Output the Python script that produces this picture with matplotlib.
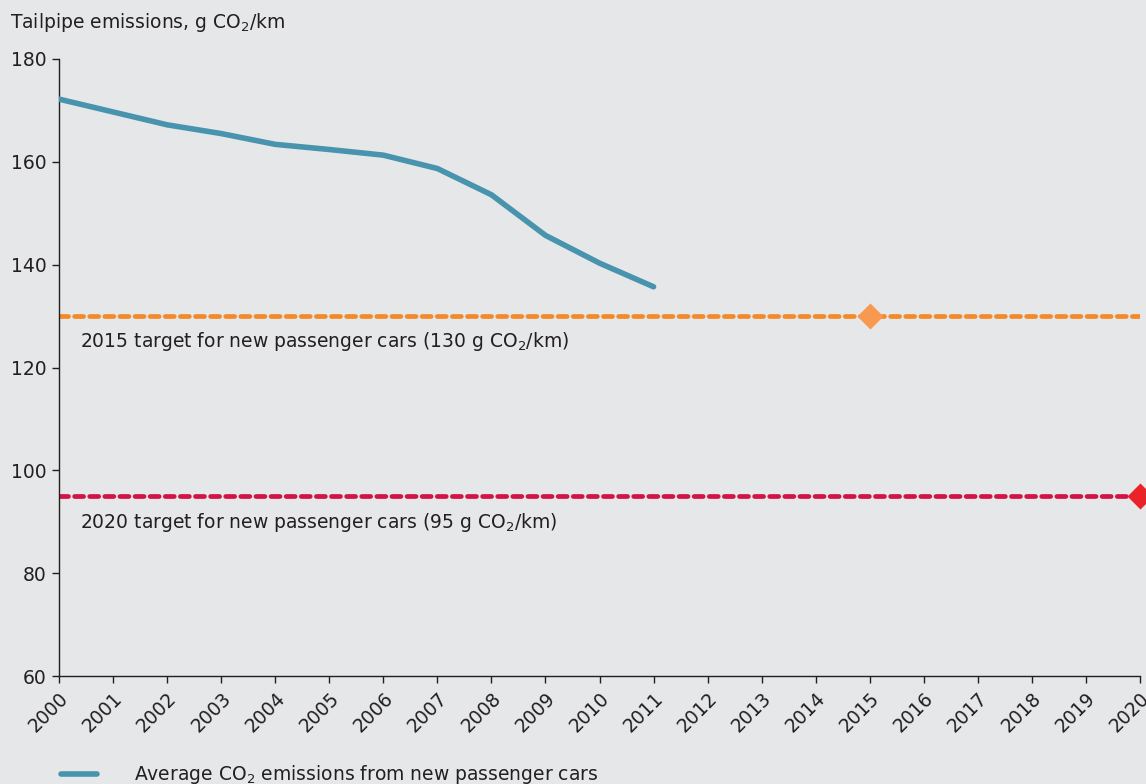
import matplotlib.pyplot as plt

# data
years = [2000, 2001, 2002, 2003, 2004, 2005, 2006, 2007, 2008, 2009, 2010, 2011]
avg_co2 = [172.2, 169.7, 167.2, 165.5, 163.4, 162.4, 161.3, 158.7, 153.6, 145.7, 140.3, 135.7]
target_2015 = 130
target_2020 = 95
all_years = list(range(2000, 2021))
y_ticks = [60, 80, 100, 120, 140, 160, 180]

bg = '#e6e7e8'
teal = '#4893ad'
orange = '#f4892a'
orange_marker = '#f7994e'
crimson = '#d31245'
red_marker = '#ea2328'
ink = '#231f20'

plt.rcParams['font.family'] = ['DejaVu Sans']
plt.rcParams['font.size'] = 13.5

fig = plt.figure(figsize=(11.46, 7.84), dpi=100, facecolor=bg)
ax = fig.add_axes([59 / 1146, 1 - 676 / 784, (1140 - 59) / 1146, (676 - 59) / 784])
ax.set_facecolor(bg)

# target lines
ax.plot([all_years[0], all_years[-1]], [target_2015, target_2015], color=orange, lw=3.4,
        dashes=(1.9, 1.3), dash_capstyle='round', zorder=2)
ax.plot([all_years[0], all_years[-1]], [target_2020, target_2020], color=crimson, lw=3.4,
        dashes=(1.9, 1.3), dash_capstyle='round', zorder=2)
ax.plot([2015], [target_2015], marker='D', ms=13, color=orange_marker, mec='none', zorder=3)
ax.plot([2020], [target_2020], marker='D', ms=13, color=red_marker, mec='none', zorder=3,
        clip_on=False)

# average emissions
line, = ax.plot(years, avg_co2, color=teal, lw=4, solid_capstyle='round', zorder=4,
                label='Average CO$_2$ emissions from new passenger cars')

ax.text(2000.39, 125.1, '2015 target for new passenger cars (130 g CO$_2$/km)',
        va='center', ha='left', color=ink)
ax.text(2000.39, 89.8, '2020 target for new passenger cars (95 g CO$_2$/km)',
        va='center', ha='left', color=ink)

ax.set_xlim(2000, 2020)
ax.set_ylim(60, 180)
ax.set_xticks(all_years)
ax.set_xticklabels([str(y) for y in all_years], rotation=45, ha='right',
                   rotation_mode='anchor', color=ink)
ax.set_yticks(y_ticks)
ax.set_yticklabels([str(v) for v in y_ticks], color=ink)
ax.tick_params(axis='both', length=5, width=1, color=ink, direction='out', pad=4)
for side in ['top', 'right']:
    ax.spines[side].set_visible(False)
for side in ['left', 'bottom']:
    ax.spines[side].set_color(ink)
    ax.spines[side].set_linewidth(1)

fig.text(10 / 1146, 1 - 22 / 784, 'Tailpipe emissions, g CO$_2$/km', va='center', ha='left',
         color=ink)

ax.legend(handles=[line], loc='center left', bbox_to_anchor=(61 / 1146, 1 - 775 / 784),
          bbox_transform=fig.transFigure, frameon=False, borderpad=0, borderaxespad=0,
          handlelength=1.9, handletextpad=2.0, labelcolor=ink)

fig.savefig('out.png', dpi=100, facecolor=bg)
